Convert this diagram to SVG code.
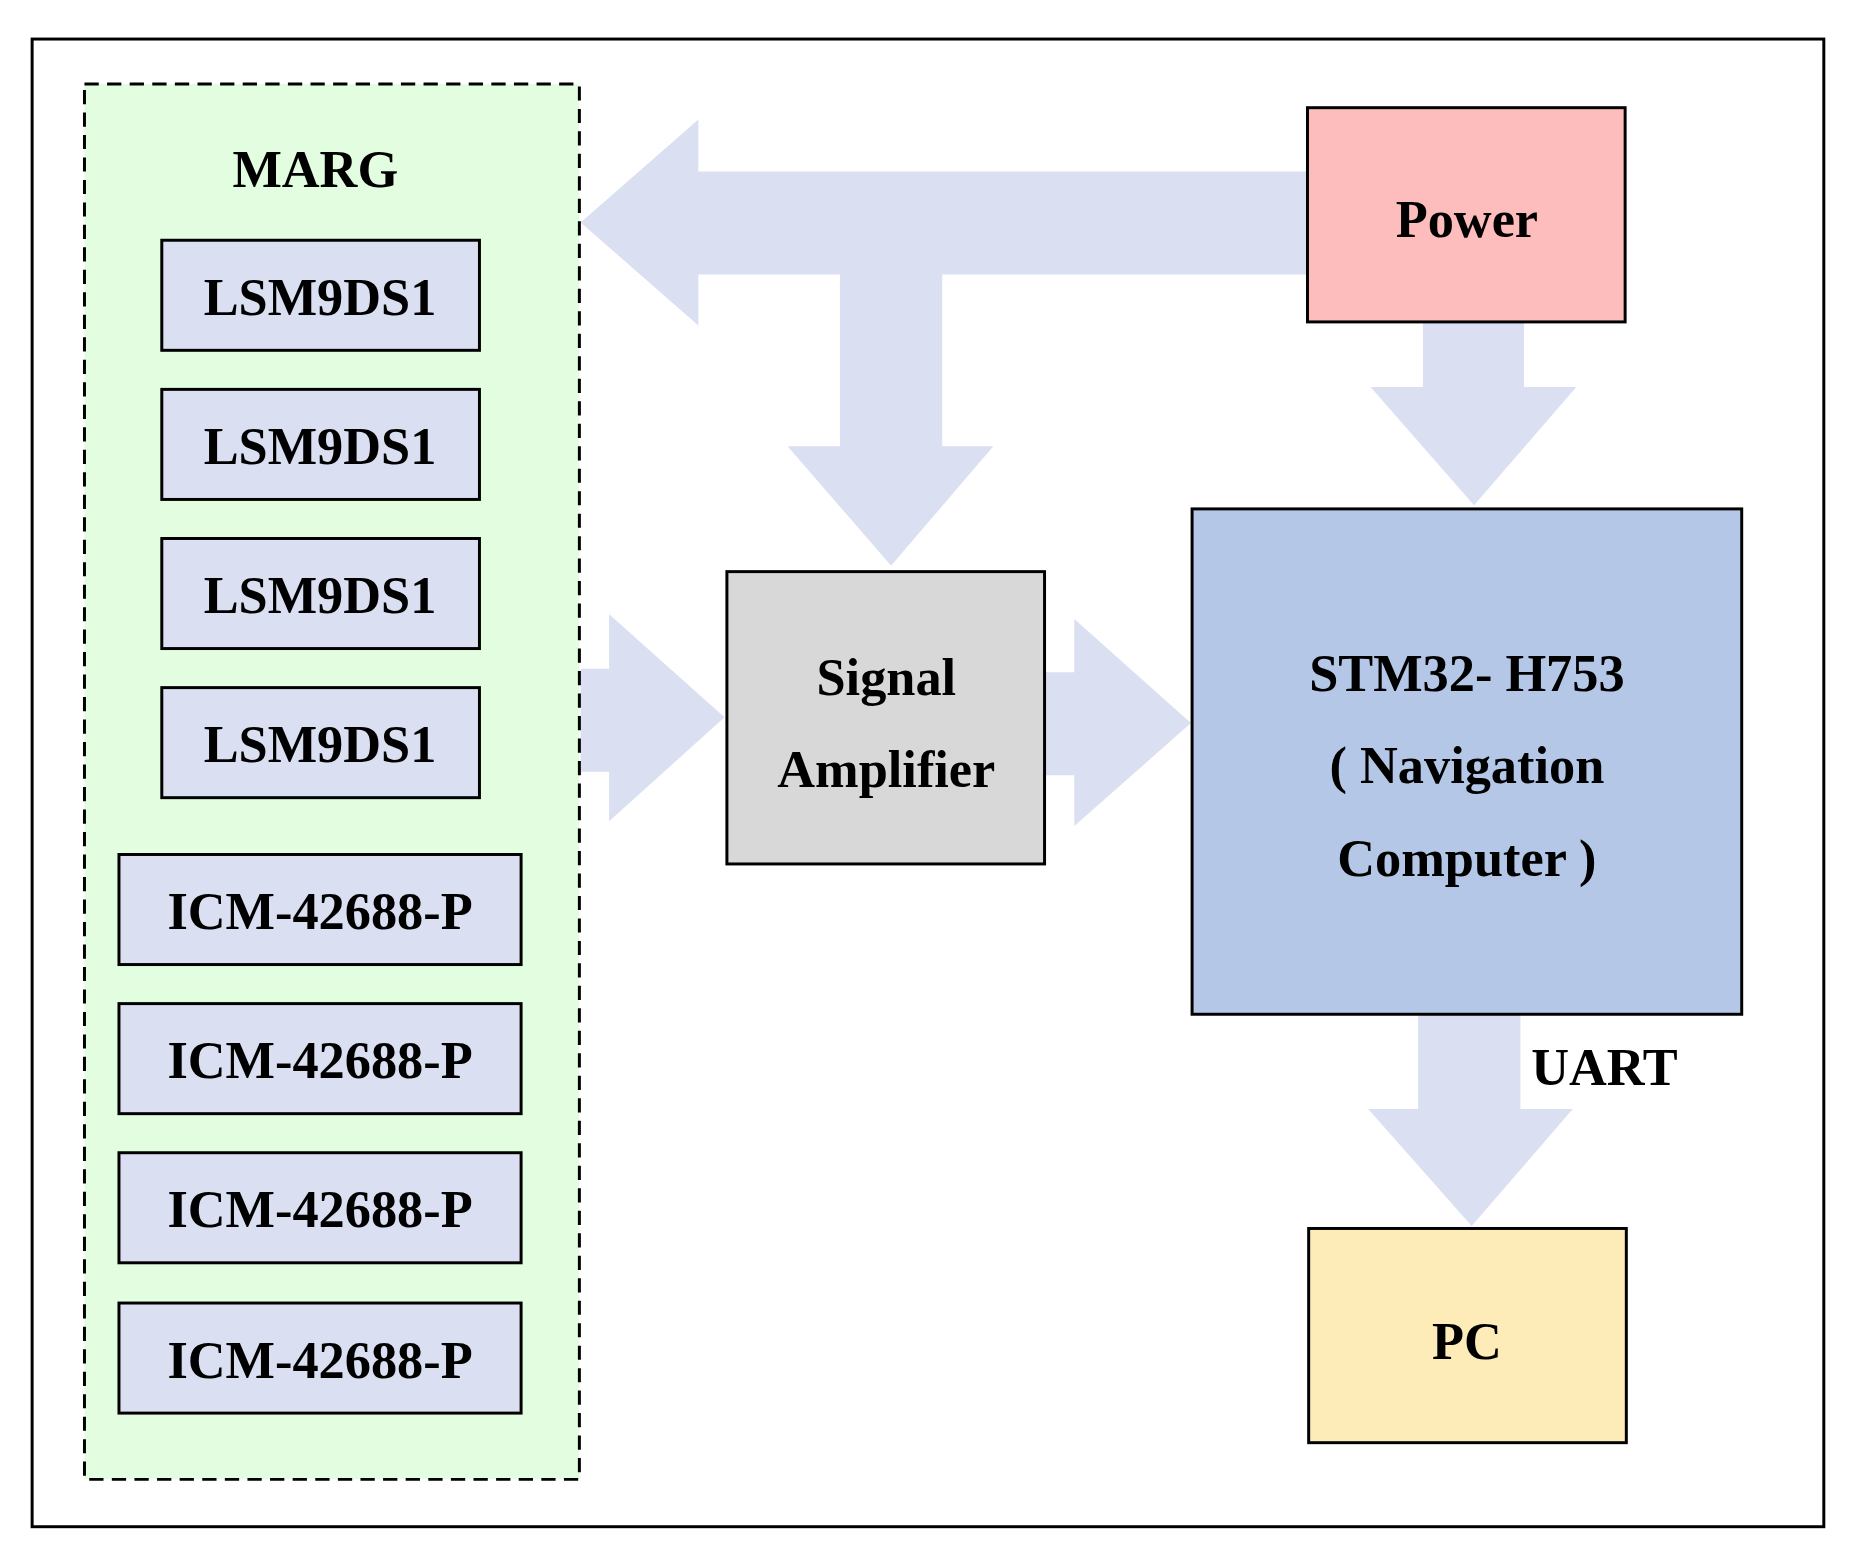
<svg xmlns="http://www.w3.org/2000/svg" width="1856" height="1561" viewBox="0 0 1856 1561">
<style>
.t{font-family:"Liberation Serif",serif;font-weight:bold;font-size:44px;text-anchor:middle;fill:#000}
.b{stroke:#000;stroke-width:2.5}
.s{fill:#dae0f2}
.a{fill:#dae0f2}
</style>
<rect width="1856" height="1561" fill="#fff"/>
<g transform="scale(1.1897,1.1835)">
<rect x="27" y="33" width="1506" height="1257" fill="none" stroke="#000" stroke-width="2.5"/>
<g id="connectors">
<polygon class="a" points="1099,145 587,145 587,101 488,188 587,275 587,232 706,232 706,377 662,377 749,478 835,377 792,377 792,232 1099,232"/>
<polygon class="a" points="1196,272 1281,272 1281,327 1325,327 1239,427 1152,327 1196,327"/>
<polygon class="a" points="488,565 512,565 512,519 609,606 512,694 512,652 488,652"/>
<polygon class="a" points="878,568 903,568 903,523 1001,611 903,698 903,655 878,655"/>
<polygon class="a" points="1192,857 1278,857 1278,937 1322,937 1237,1036 1150,937 1192,937"/>
<text class="t" x="1287" y="917" style="text-anchor:start">UART</text>
</g>
<g id="marg">
<rect x="71" y="71" width="416" height="1179" fill="#e2fde0" stroke="#000" stroke-width="2.5" stroke-dasharray="12,7"/>
<text class="t" x="265" y="158">MARG</text>
</g>
<g id="lsm1"><rect class="b s" x="136" y="203" width="267" height="93"/><text class="t" x="269" y="266">LSM9DS1</text></g>
<g id="lsm2"><rect class="b s" x="136" y="329" width="267" height="93"/><text class="t" x="269" y="392">LSM9DS1</text></g>
<g id="lsm3"><rect class="b s" x="136" y="455" width="267" height="93"/><text class="t" x="269" y="518">LSM9DS1</text></g>
<g id="lsm4"><rect class="b s" x="136" y="581" width="267" height="93"/><text class="t" x="269" y="644">LSM9DS1</text></g>
<g id="icm1"><rect class="b s" x="100" y="722" width="338" height="93"/><text class="t" x="269" y="785">ICM-42688-P</text></g>
<g id="icm2"><rect class="b s" x="100" y="848" width="338" height="93"/><text class="t" x="269" y="911">ICM-42688-P</text></g>
<g id="icm3"><rect class="b s" x="100" y="974" width="338" height="93"/><text class="t" x="269" y="1037">ICM-42688-P</text></g>
<g id="icm4"><rect class="b s" x="100" y="1101" width="338" height="93"/><text class="t" x="269" y="1164">ICM-42688-P</text></g>
<g id="power"><rect class="b" x="1099" y="91" width="267" height="181" fill="#fdbdbd"/><text class="t" x="1233" y="200">Power</text></g>
<g id="signal"><rect class="b" x="611" y="483" width="267" height="247" fill="#d8d8d8"/><text class="t" x="745" y="587">Signal</text><text class="t" x="745" y="665">Amplifier</text></g>
<g id="stm"><rect class="b" x="1002" y="430" width="462" height="427" fill="#b4c7e7"/><text class="t" x="1233" y="584">STM32- H753</text><text class="t" x="1233" y="662">( Navigation</text><text class="t" x="1233" y="740">Computer )</text></g>
<g id="pc"><rect class="b" x="1100" y="1038" width="267" height="181" fill="#fdebb8"/><text class="t" x="1233" y="1148">PC</text></g>
</g>
</svg>
